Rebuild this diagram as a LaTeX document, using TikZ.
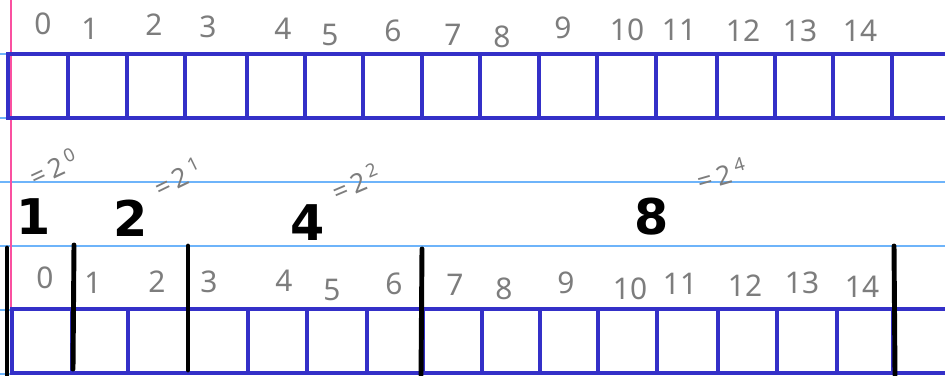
\documentclass[tikz,border=0pt]{standalone}
\usepackage{fontspec}
\setmainfont{Noto Sans}
\newfontfamily\markerfont{DejaVu Sans}
\usepackage{tikz}
\usetikzlibrary{positioning}
\definecolor{ruleblue}{RGB}{110,180,250}
\definecolor{marginpink}{RGB}{250,80,160}
\definecolor{boxblue}{RGB}{52,48,200}
\definecolor{pencil}{RGB}{125,125,125}
\tikzset{
  idx/.style={text=pencil,font=\fontsize{17}{17}\selectfont,inner sep=0pt},
  blocksize/.style={text=black,font=\markerfont\bfseries\fontsize{28}{28}\selectfont,inner sep=0pt},
  power/.style={text=pencil,font=\fontsize{15}{15}\selectfont,inner sep=0pt,rotate=#1},
  power/.default=22,
  cell/.style={draw=boxblue,line width=1.8pt,line cap=rect},
  wall/.style={draw=black,line width=2.8pt,line cap=round},
}

\begin{document}
\begin{tikzpicture}[x=0.02cm,y=-0.02cm]
  \useasboundingbox (0,0) rectangle (945,375);
  \fill[white] (0,0) rectangle (945,375); % 紙の地
  \foreach \y in {54,118,182,246,310,374}
    \draw[ruleblue,line width=0.6pt] (0,\y) -- (945,\y); % ノートの罫線
  \draw[marginpink,line width=0.9pt] (11,0) -- (11,375); % 左の余白線

  \draw[cell] (8,54) -- (945,54) (8,118) -- (945,118); % 上の配列の上辺と下辺
  \foreach \x in {8,68,127,185,247,305,363,422,480,539,597,656,717,775,833,892}
    \draw[cell] (\x,54) -- (\x,118); % 上の配列のマスの仕切り
  \foreach \x/\y/\n in {43/24/0,90/29/1,154/25/2,208/27/3,283/29/4,330/35/5,393/31/6,453/35/7,
                        502/37/8,563/28/9,627/30/10,679/30/11,743/31/12,800/31/13,860/31/14}
    \node[idx] (top\n) at (\x,\y) {\n}; % 上の配列の添字

  \node[power=25] (pow0) at (54,167) {=\,2\,\textsuperscript{0}}; % 各ブロックの大きさを2の累乗で書いたメモ
  \node[power=26] (pow1) at (178,177) {=\,2\,\textsuperscript{1}};
  \node[power=23] (pow2) at (356,182) {=\,2\,\textsuperscript{2}};
  \node[power=16] (pow3) at (722,174) {=\,2\,\textsuperscript{4}};

  \node[blocksize] (size1) at (34,217) {1}; % ブロックの大きさ
  \node[blocksize] (size2) at (131,218) {2};
  \node[blocksize] (size4) at (308,223) {4};
  \node[blocksize] (size8) at (652,217) {8};

  \draw[cell] (12,309) -- (945,309) (12,373) -- (945,373); % 下の配列の上辺と下辺
  \foreach \x in {12,72,128,188,248,307,367,423,482,540,598,657,718,777,837,893}
    \draw[cell] (\x,309) -- (\x,373); % 下の配列のマスの仕切り
  \foreach \x/\y/\n in {45/278/0,93/283/1,157/282/2,209/282/3,284/281/4,332/290/5,394/284/6,455/285/7,
                        504/289/8,566/283/9,630/289/10,680/284/11,745/286/12,802/283/13,862/287/14}
    \node[idx] (bot\n) at (\x,\y) {\n}; % 下の配列の添字

  \draw[wall] (7,248) -- (7,375); % ブロックの境目を表す太い黒線
  \draw[wall] (74,245) -- (73,369);
  \draw[wall] (188,246) -- (188,370);
  \draw[wall] (422,249) -- (421,375);
  \draw[wall] (894,246) -- (895,375);
\end{tikzpicture}
\end{document}
